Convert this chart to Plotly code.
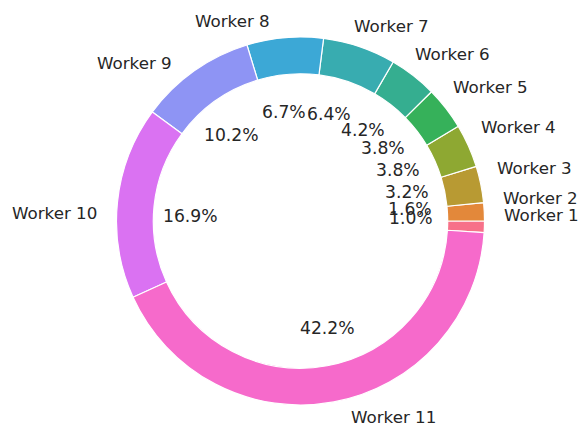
import math
import plotly.graph_objects as go

labels = ["Worker 1", "Worker 2", "Worker 3", "Worker 4", "Worker 5", "Worker 6",
          "Worker 7", "Worker 8", "Worker 9", "Worker 10", "Worker 11"]
values = [1.0, 1.6, 3.2, 3.8, 3.8, 4.2, 6.4, 6.7, 10.2, 16.9, 42.2]
colors = ["#f77189", "#e3883a", "#b89a33", "#8ea832", "#36b15a", "#35ae90",
          "#38acb0", "#3ca8d6", "#8e94f4", "#da72f2", "#f66acb"]

W, H = 581, 425
cx, cy, R = 300.5, 221, 184  # pixel centre / radius of the ring
dom_x = [(cx - R) / W, (cx + R) / W]
dom_y = [(H - cy - R) / H, (H - cy + R) / H]

fig = go.Figure(go.Pie(
    labels=labels, values=values, sort=False, direction="counterclockwise",
    rotation=90, hole=0.8, textinfo="none", hoverinfo="label+percent",
    marker=dict(colors=colors, line=dict(color="white", width=1.2)),
    domain=dict(x=dom_x, y=dom_y), showlegend=False,
))

total = sum(values)
annotations = []
cum = 0.0
lab_font = dict(family="DejaVu Sans", size=16.7, color="#262626")
pct_font = dict(family="DejaVu Sans", size=17.2, color="#262626")
for lab, v in zip(labels, values):
    mid = (cum + v / 2) / total * 2 * math.pi
    cum += v
    c, s = math.cos(mid), math.sin(mid)
    lx = cx + 1.1 * R * c
    ly = cy - 1.1 * R * s
    annotations.append(dict(
        x=lx / W, y=1 - ly / H, xref="paper", yref="paper", text=lab,
        showarrow=False, font=lab_font, xanchor="left" if c > 0 else "right",
        yanchor="middle", borderpad=0))
    px = cx + 0.6 * R * c
    py = cy - 0.6 * R * s
    annotations.append(dict(
        x=px / W, y=1 - py / H, xref="paper", yref="paper",
        text=f"{v / total * 100:.1f}%", showarrow=False, font=pct_font,
        xanchor="center", yanchor="middle", borderpad=0))

fig.update_layout(
    width=W, height=H, margin=dict(l=0, r=0, t=0, b=0),
    paper_bgcolor="white", plot_bgcolor="white", annotations=annotations,
)
fig.write_html("out.html", config={"displayModeBar": False},
               post_script="document.body.style.margin='0';")
